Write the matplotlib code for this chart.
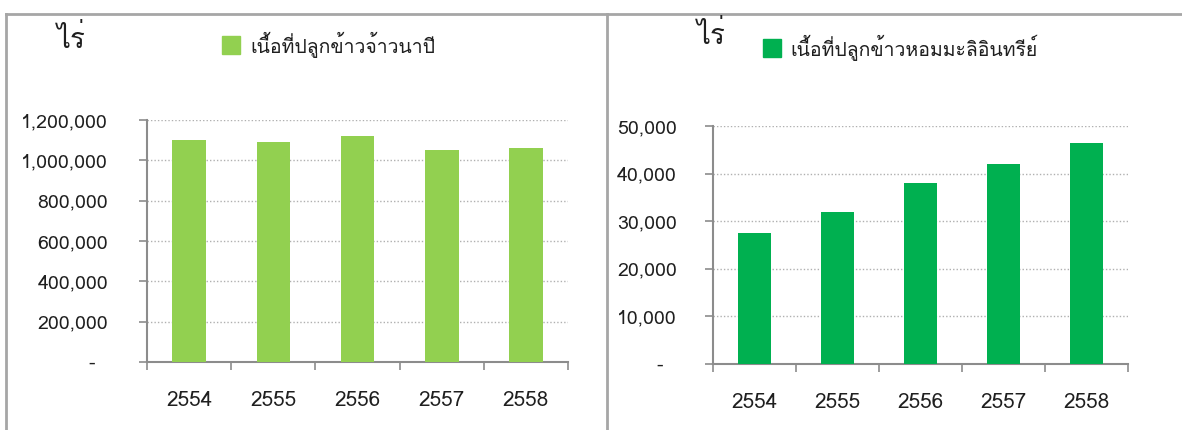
import numpy as np
import matplotlib
matplotlib.use("Agg")
import matplotlib.pyplot as plt
from matplotlib import font_manager
from matplotlib.ft2font import FT2Font
from matplotlib.lines import Line2D
from matplotlib.patches import Rectangle
from matplotlib.ticker import FuncFormatter, FixedLocator

# data
years = ["2554", "2555", "2556", "2557", "2558"]
area_nonglutinous = [1100000, 1092000, 1120000, 1052000, 1061000]
area_hommali_organic = [27500, 32000, 38000, 42000, 46500]

unit_label = "ไร่"
legend_left = "เนื้อที่ปลูกข้าวจ้าวนาปี"
legend_right = "เนื้อที่ปลูกข้าวหอมมะลิอินทรีย์"


def find_thai_font():
    # look for any installed font that has Thai glyphs
    for f in font_manager.fontManager.ttflist:
        try:
            if 0x0E44 in FT2Font(f.fname).get_charmap():
                return f.name
        except Exception:
            continue
    return None


thai = find_thai_font()
families = [thai, "DejaVu Sans"] if thai else ["DejaVu Sans"]
plt.rcParams["font.family"] = families

TEXT = "#1f1f1f"
AXIS = "#8c8c8c"
FRAME = "#a6a6a6"


def fmt(v, pos):
    if v == 0:
        return "-  "
    return f"{v:,.0f}"


def draw_panel(ax, values, ymax, step, color, pad):
    x = np.arange(len(years))
    ax.bar(x, values, width=0.4, color=color, zorder=3)
    ax.set_xlim(-0.5, len(years) - 0.5)
    ax.set_ylim(0, ymax)
    ax.set_yticks(np.arange(0, ymax + step, step))
    ax.yaxis.set_major_formatter(FuncFormatter(fmt))
    ax.set_xticks(x)
    ax.set_xticklabels(years)
    ax.xaxis.set_minor_locator(FixedLocator(np.arange(-0.5, len(years), 1.0)))
    ax.tick_params(axis="x", which="major", length=0, pad=21, labelsize=15, labelcolor=TEXT)
    ax.tick_params(axis="x", which="minor", length=6, width=1.2, color=AXIS, direction="out")
    ax.tick_params(axis="y", length=6, width=1.2, color=AXIS, pad=pad, labelsize=14, labelcolor=TEXT)
    ax.grid(axis="y", linestyle=(0, (1, 1.5)), color="#b0b0b0", linewidth=1, zorder=0)
    for s in ["top", "right"]:
        ax.spines[s].set_visible(False)
    for s in ["left", "bottom"]:
        ax.spines[s].set_color(AXIS)
        ax.spines[s].set_linewidth(1.5)


fig = plt.figure(figsize=(11.82, 4.30), dpi=100)

ax1 = fig.add_axes([0.1244, 0.1581, 0.3562, 0.5628])
draw_panel(ax1, area_nonglutinous, 1200000, 200000, "#92D050", 22)

ax2 = fig.add_axes([0.6032, 0.1535, 0.3511, 0.5535])
draw_panel(ax2, area_hommali_organic, 50000, 10000, "#00B050", 20)

# unit labels and legend entries
fig.text(71 / 1182, 1 - 40 / 430, unit_label, fontsize=20, color=TEXT, ha="center", va="center")
fig.text(711 / 1182, 1 - 35 / 430, unit_label, fontsize=20, color=TEXT, ha="center", va="center")

fig.add_artist(Rectangle((222 / 1182, 1 - 54 / 430), 18 / 1182, 18 / 430,
                         transform=fig.transFigure, color="#92D050"))
fig.text(250 / 1182, 1 - 45 / 430, legend_left, fontsize=14, color=TEXT, ha="left", va="center")
fig.add_artist(Rectangle((763 / 1182, 1 - 57 / 430), 18 / 1182, 18 / 430,
                         transform=fig.transFigure, color="#00B050"))
fig.text(790 / 1182, 1 - 48 / 430, legend_right, fontsize=14, color=TEXT, ha="left", va="center")

# panel frames
fig.add_artist(Line2D([6 / 1182, 6 / 1182], [0, 1 - 14 / 430], transform=fig.transFigure, color=FRAME, lw=2))
fig.add_artist(Line2D([607 / 1182, 607 / 1182], [0, 1 - 14 / 430], transform=fig.transFigure, color=FRAME, lw=2))
fig.add_artist(Line2D([6 / 1182, 1], [1 - 14 / 430, 1 - 14 / 430], transform=fig.transFigure, color=FRAME, lw=2))

fig.savefig("out.png", dpi=100)
